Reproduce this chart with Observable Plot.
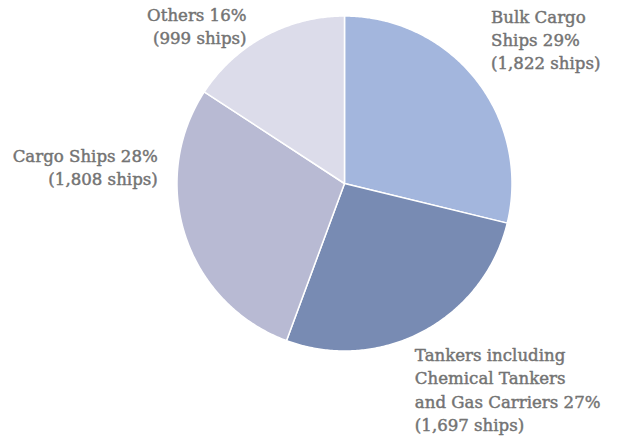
<!DOCTYPE html>
<html><head><meta charset="utf-8">
<script src="https://cdn.jsdelivr.net/npm/d3@7"></script>
<script src="https://cdn.jsdelivr.net/npm/@observablehq/plot@0.6"></script>
<style>body{margin:0;background:#fff}</style>
</head><body><div id="chart"></div>
<script>
const categories = ["Bulk Cargo Ships", "Tankers including Chemical Tankers and Gas Carriers", "Cargo Ships", "Others"];
const ships = [1822, 1697, 1808, 999];
const percents = [29, 27, 28, 16];
const labelLines = [
  ["Bulk Cargo", "Ships 29%", "(1,822 ships)"],
  ["Tankers including", "Chemical Tankers", "and Gas Carriers 27%", "(1,697 ships)"],
  ["Cargo Ships 28%", "(1,808 ships)"],
  ["Others 16%", "(999 ships)"]
];
const colors = ["#a3b6dd", "#788bb3", "#b8bad3", "#dcdcea"];

const total = d3.sum(ships);
// slice polygons from cumulative angles (clockwise from 12 o'clock)
const pts = [];
let acc = 0;
categories.forEach((c, i) => {
  const a0 = acc / total * 2 * Math.PI;
  acc += ships[i];
  const a1 = acc / total * 2 * Math.PI;
  pts.push({name: c, x: 0, y: 0});
  const n = Math.max(2, Math.ceil((a1 - a0) / 0.01));
  for (let k = 0; k <= n; k++) {
    const a = a0 + (a1 - a0) * k / n;
    pts.push({name: c, x: Math.sin(a), y: Math.cos(a)});
  }
  pts.push({name: c, x: 0, y: 0});
});

// label layout (pie units)
const layout = [
  {x: 0.875, y: 1.06, anchor: "start"},
  {x: 0.42, y: -0.96, anchor: "start"},
  {x: -1.115, y: 0.23, anchor: "end"},
  {x: -0.585, y: 1.07, anchor: "end"}
];
const labels = categories.map((c, i) => ({
  text: labelLines[i].join("\n"), ...layout[i]
}));

const R = 167.5, cx = 344, cy = 183;
const common = {x: "x", y: "y", text: "text", lineAnchor: "top", fontSize: 16.6, fontWeight: "normal", fill: "#737373", lineHeight: 1.41, stroke: "#737373", strokeWidth: 0.45};
const chart = Plot.plot({
  width: 619, height: 440,
  marginLeft: 0, marginRight: 0, marginTop: 0, marginBottom: 0,
  x: {domain: [-1, 1], range: [cx - R, cx + R], axis: null},
  y: {domain: [-1, 1], range: [cy + R, cy - R], axis: null},
  color: {domain: categories, range: colors},
  style: {fontFamily: "'DejaVu Serif', serif"},
  marks: [
    Plot.line(pts, {x: "x", y: "y", z: "name", fill: "name", stroke: "white", strokeWidth: 1.5, curve: "linear"}),
    Plot.text(labels.filter(d => d.anchor === "start"), {...common, textAnchor: "start"}),
    Plot.text(labels.filter(d => d.anchor === "end"), {...common, textAnchor: "end"})
  ]
});
document.getElementById("chart").appendChild(chart);
</script></body></html>
